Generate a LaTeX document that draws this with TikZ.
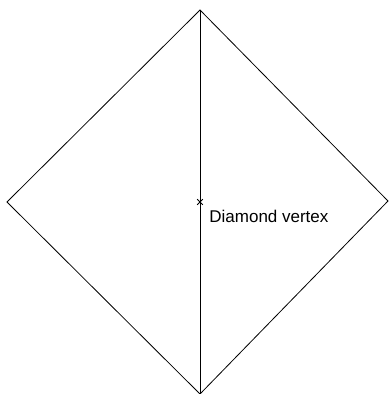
\documentclass[tikz,border=0pt]{standalone}
\usepackage{fontspec}
\newfontfamily\labelfont{Liberation Sans}
\usepackage{tikz}

\begin{document}
\begin{tikzpicture}[x=1pt, y=-1pt, line width=0.8pt]
\useasboundingbox (0,0) rectangle (389,394);
\coordinate (T) at (200,10);
\coordinate (L) at (7,202);
\coordinate (R) at (388,201);
\coordinate (B) at (200,394);
\coordinate (M) at (200,202);
\draw[black] (T) -- (R) -- (B) -- (L) -- cycle;
\draw[black] (T) -- (B);
\draw[black, line width=1pt] (M) ++(-2.8,-2.8) -- ++(5.6,5.6);
\draw[black, line width=1pt] (M) ++(-2.8,2.8) -- ++(5.6,-5.6);
\node[anchor=base west, inner sep=0pt, font=\labelfont\fontsize{17}{20}\selectfont] (lbl) at (209,222.3) {Diamond vertex};
\end{tikzpicture}
\end{document}
